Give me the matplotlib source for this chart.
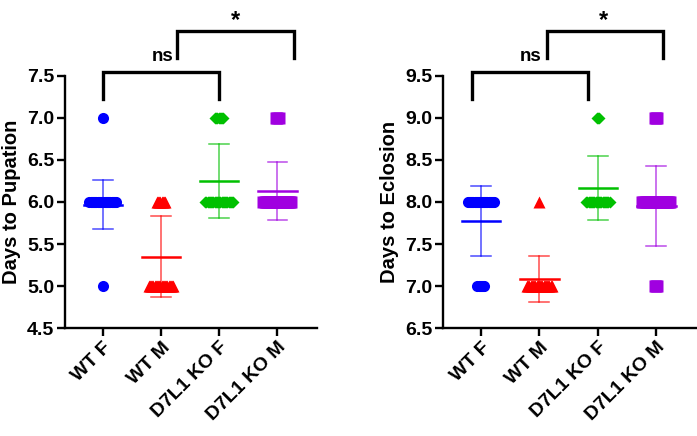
import numpy as np
import matplotlib
matplotlib.use('Agg')
import matplotlib.pyplot as plt

plt.rcParams['font.family'] = ['Liberation Sans', 'DejaVu Sans']
plt.rcParams['font.weight'] = 'bold'

groups = ['WT F', 'WT M', 'D7L1 KO F', 'D7L1 KO M']
colors = ['#0000ff', '#ff0000', '#00c000', '#a000e0']
markers = ['o', '^', 'D', 's']

# number of animals at each whole day, per group
pup_days = [[5, 6, 7], [5, 6], [6, 7], [6, 7]]
pup_counts = [[1, 24, 1], [22, 8], [25, 8], [25, 3]]
pup_mean = [5.97, 5.35, 6.25, 6.13]
pup_sd = [0.295, 0.48, 0.44, 0.345]

ecl_days = [[7, 8], [7, 8], [8, 9], [7, 8, 9]]
ecl_counts = [[7, 24], [22, 1], [21, 3], [3, 25, 3]]
ecl_mean = [7.775, 7.08, 8.165, 7.955]
ecl_sd = [0.42, 0.275, 0.385, 0.475]

# significance brackets: (x start, x end, label x, label)
pup_brackets = [(0.0, 2.0, 1.02, 'ns'), (1.28, 3.28, 2.28, '*')]
ecl_brackets = [(-0.16, 1.83, 0.845, 'ns'), (1.13, 3.11, 2.1, '*')]


def dot_panel(ax, days, counts, means, sds, ylim, ylabel, brackets):
    step = 0.02
    for i in range(len(groups)):
        for d, n in zip(days[i], counts[i]):
            xs = i + (np.arange(n) - (n - 1) / 2) * step
            ax.plot(xs, [d] * n, ls='none', marker=markers[i], ms=8 if markers[i] != 'D' else 6.3,
                    color=colors[i], mec='none', zorder=4, clip_on=False)
        m, s = means[i], sds[i]
        ax.plot([i, i], [m - s, m + s], color=colors[i], lw=1.1, alpha=0.7, zorder=3)
        for y in (m - s, m + s):
            ax.plot([i - 0.17, i + 0.17], [y, y], color=colors[i], lw=1.1, alpha=0.7, zorder=3)
        ax.plot([i - 0.33, i + 0.33], [m, m], color=colors[i], lw=1.8, zorder=3)

    lo, hi = ylim
    for x0, x1, xt, label in brackets:
        if label == 'ns':
            top, leg = hi + 0.05, hi - 0.274
            ty = hi + 0.23
            fs = 13.5
        else:
            top, leg = hi + 0.54, hi + 0.22
            ty = hi + 0.66
            fs = 17
        ax.plot([x0, x0, x1, x1], [leg, top, top, leg], color='k', lw=2.4,
                clip_on=False, solid_joinstyle='miter')
        ax.text(xt, ty, label, ha='center', va='center', fontsize=fs, fontweight='bold')

    ax.set_xlim(-0.65, 3.68)
    ax.set_ylim(lo, hi)
    ax.set_yticks(np.arange(lo, hi + 0.01, 0.5))
    ax.set_yticklabels([f'{v:.1f}' for v in np.arange(lo, hi + 0.01, 0.5)])
    ax.set_xticks(range(len(groups)))
    ax.set_xticklabels(groups, rotation=45, ha='right', rotation_mode='anchor')
    ax.set_ylabel(ylabel, fontsize=14.5, fontweight='bold', labelpad=4)
    for side in ('top', 'right'):
        ax.spines[side].set_visible(False)
    for side in ('left', 'bottom'):
        ax.spines[side].set_linewidth(1.7)
    ax.tick_params(width=1.7, length=5.8, labelsize=14, pad=2)


fig = plt.figure(figsize=(6.97, 4.36), dpi=100)
ax1 = fig.add_axes([0.0933, 0.2477, 0.3615, 0.578])
ax2 = fig.add_axes([0.6356, 0.2477, 0.363, 0.578])

dot_panel(ax1, pup_days, pup_counts, pup_mean, pup_sd, (4.5, 7.5), 'Days to Pupation', pup_brackets)
dot_panel(ax2, ecl_days, ecl_counts, ecl_mean, ecl_sd, (6.5, 9.5), 'Days to Eclosion', ecl_brackets)

fig.savefig('out.png', dpi=100)
